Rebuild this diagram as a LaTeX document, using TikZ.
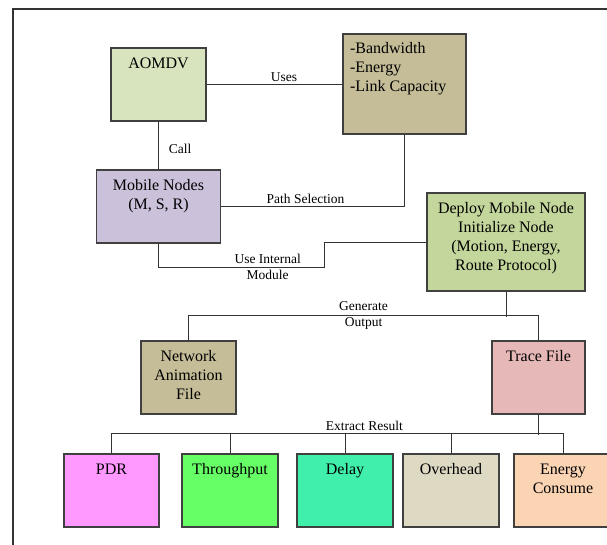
\documentclass[tikz,border=0pt]{standalone}
\usepackage{fontspec}
\setmainfont{Liberation Serif}
\usetikzlibrary{positioning}

\definecolor{lightgreen}{HTML}{D7E4BD}
\definecolor{khaki}{HTML}{C4BD97}
\definecolor{lavender}{HTML}{CCC1DA}
\definecolor{olivegreen}{HTML}{C3D69B}
\definecolor{rosepink}{HTML}{E6B9B8}
\definecolor{pdrpink}{HTML}{FF99FF}
\definecolor{brightgreen}{HTML}{66FF66}
\definecolor{seagreen}{HTML}{40F0AA}
\definecolor{stone}{HTML}{DDD9C3}
\definecolor{peach}{HTML}{FBD4B4}

\newcommand{\boxfont}{\fontsize{16}{19}\selectfont}
\newcommand{\lblfont}{\fontsize{13.5}{16}\selectfont}
\newcommand{\boxtxt}[3]{\parbox[c][#2][t]{#1}{\centering\vspace*{7pt}\strut #3}}

\begin{document}
\begin{tikzpicture}[x=1pt, y=-1pt,
    blk/.style={draw=black!75, line width=1.2pt, inner sep=0pt, font=\boxfont},
    link/.style={draw=black!80, line width=0.9pt},
    lbl/.style={font=\lblfont, inner sep=2pt},
    frame/.style={draw=black!80, line width=1.6pt}]
    \useasboundingbox (0,0) rectangle (607,545);
    \draw[frame] (13,570) |- (630,9);

    \node[blk,fill=lightgreen] (aomdv) at (158.5,84.5) {\boxtxt{95pt}{73pt}{AOMDV}};
    \node[blk,fill=khaki] (params) at (404.5,84) {\parbox[c][100pt][t]{123pt}{\leftskip=7pt\vspace*{6pt}\strut -Bandwidth\\-Energy\\-Link Capacity}};
    \node[blk,fill=lavender] (mob) [below of=aomdv, node distance=122pt] {\boxtxt{124pt}{73pt}{Mobile Nodes\\(M, S, R)}};
    \node[blk,fill=olivegreen] (deploy) at (506,242) {\boxtxt{158pt}{98pt}{Deploy Mobile Node\\Initialize Node\\(Motion, Energy,\\Route Protocol)}};
    \node[blk,fill=khaki] (net) at (188.5,377.5) {\boxtxt{95pt}{73pt}{Network\\Animation\\File}};
    \node[blk,fill=rosepink] (trace) at (538.5,377.5) {\boxtxt{93pt}{73pt}{Trace File}};

    \node[blk,fill=pdrpink] (pdr) at (111.5,490.5) {\boxtxt{95pt}{73pt}{PDR}};
    \node[blk,fill=brightgreen] (thr) [right of=pdr, node distance=118.5pt] {\boxtxt{96pt}{73pt}{Throughput}};
    \node[blk,fill=seagreen] (delay) [right of=thr, node distance=115pt] {\boxtxt{96pt}{73pt}{Delay}};
    \node[blk,fill=stone] (ovh) [right of=delay, node distance=106pt] {\boxtxt{96pt}{73pt}{Overhead}};
    \node[blk,fill=peach] (energy) [right of=ovh, node distance=112pt] {\boxtxt{98pt}{73pt}{Energy\\Consume}};

    \coordinate (uimbend) at (324,267);

    \draw[link] (aomdv.east) -- node[lbl,above,pos=0.57] (luses) {Uses} (aomdv.east -| params.west);
    \draw[link] (aomdv.south) -- node[lbl,right,xshift=8pt,yshift=-3pt] (lcall) {Call} (aomdv.south |- mob.north);
    \draw[link] (mob.east) -| node[lbl,above,pos=0.23] (lpath) {Path Selection} (params.south);
    \draw[link] (mob.south) |- (uimbend) node[lbl,pos=0.83,align=center] (luim) {Use Internal\\Module} |- (deploy.west);

    \draw[link] (deploy.south) -- ++(0,25);
    \draw[link] (net.north) -- ++(0,-25) -| node[lbl,pos=0.25,align=center] (lgen) {Generate\\Output} (trace.north);

    \draw[link] (trace.south) -- ++(0,20);
    \draw[link] (pdr.north) -- ++(0,-20) -| node[lbl,above,pos=0.28] (lext) {Extract Result} (energy.north);
    \foreach \b in {thr,delay,ovh}
        \draw[link] (\b.north) -- ++(0,-20);
\end{tikzpicture}
\end{document}
